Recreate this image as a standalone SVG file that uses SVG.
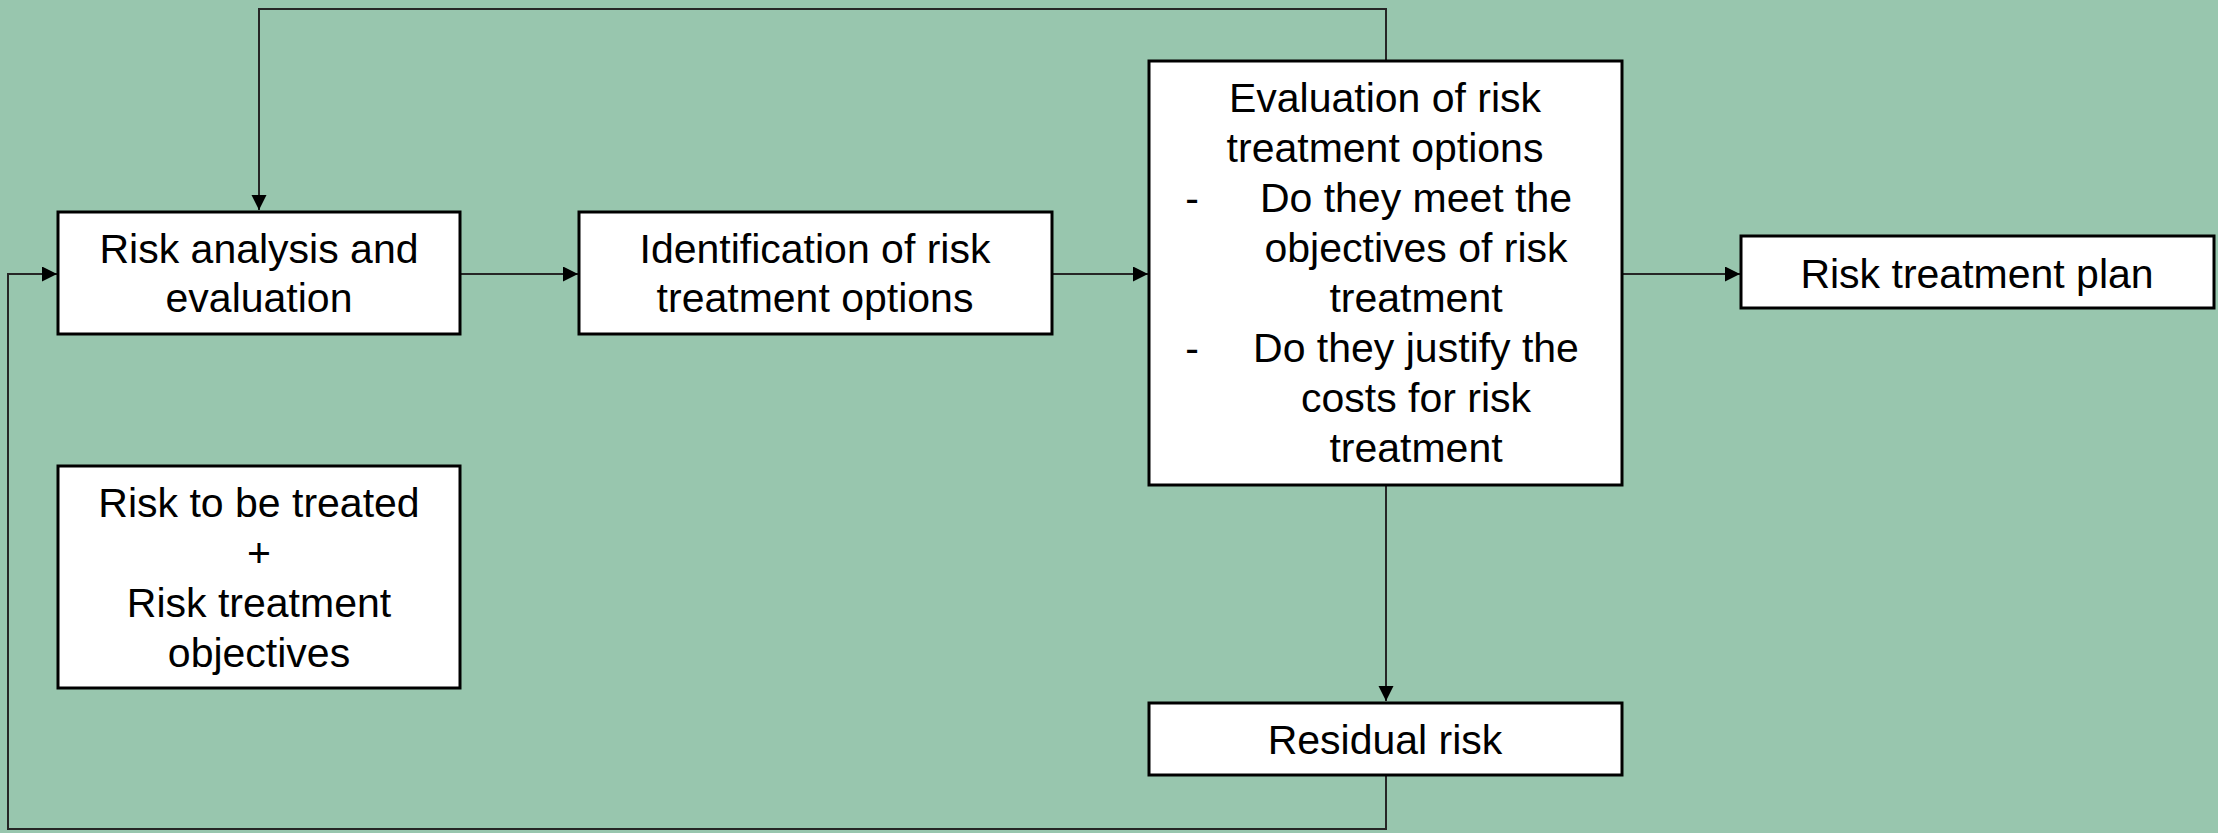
<svg xmlns="http://www.w3.org/2000/svg" width="2218" height="833" viewBox="0 0 2218 833">
<style>
.box{fill:#ffffff;stroke:#000000;stroke-width:3}
.t{font-family:"Liberation Sans",Arial,sans-serif;font-size:41px;fill:#000000;text-anchor:middle}
.c{fill:none;stroke:#262626;stroke-width:2}
</style>
<defs>
<marker id="ah" markerUnits="userSpaceOnUse" markerWidth="16" markerHeight="16" refX="15" refY="7.5" orient="auto">
<path d="M0,0 L15,7.5 L0,15 z" fill="#000000"/>
</marker>
</defs>
<rect x="0" y="0" width="2218" height="833" fill="#98c6ae"/>
<g id="connectors">
<path class="c" d="M1386,61 V9 H259 V210" marker-end="url(#ah)"/>
<path class="c" d="M1386,775 V829 H8 V274 H57" marker-end="url(#ah)"/>
<path class="c" d="M460,274 H578" marker-end="url(#ah)"/>
<path class="c" d="M1052,274 H1148" marker-end="url(#ah)"/>
<path class="c" d="M1622,274 H1740" marker-end="url(#ah)"/>
<path class="c" d="M1386,485 V701" marker-end="url(#ah)"/>
</g>
<g id="risk-analysis">
<rect class="box" x="58" y="212" width="402" height="122"/>
<text class="t" x="259" y="263">Risk analysis and</text>
<text class="t" x="259" y="312">evaluation</text>
</g>
<g id="identification">
<rect class="box" x="579" y="212" width="473" height="122"/>
<text class="t" x="815" y="263">Identification of risk</text>
<text class="t" x="815" y="312">treatment options</text>
</g>
<g id="evaluation">
<rect class="box" x="1149" y="61" width="473" height="424"/>
<text class="t" x="1385" y="112">Evaluation of risk</text>
<text class="t" x="1385" y="162">treatment options</text>
<text class="t" x="1192" y="212">-</text>
<text class="t" x="1416" y="212">Do they meet the</text>
<text class="t" x="1416" y="262">objectives of risk</text>
<text class="t" x="1416" y="312">treatment</text>
<text class="t" x="1192" y="362">-</text>
<text class="t" x="1416" y="362">Do they justify the</text>
<text class="t" x="1416" y="412">costs for risk</text>
<text class="t" x="1416" y="462">treatment</text>
</g>
<g id="treatment-plan">
<rect class="box" x="1741" y="236" width="473" height="72"/>
<text class="t" x="1977" y="288">Risk treatment plan</text>
</g>
<g id="risk-to-be-treated">
<rect class="box" x="58" y="466" width="402" height="222"/>
<text class="t" x="259" y="517">Risk to be treated</text>
<text class="t" x="259" y="567">+</text>
<text class="t" x="259" y="617">Risk treatment</text>
<text class="t" x="259" y="667">objectives</text>
</g>
<g id="residual-risk">
<rect class="box" x="1149" y="703" width="473" height="72"/>
<text class="t" x="1385" y="754">Residual risk</text>
</g>
</svg>
